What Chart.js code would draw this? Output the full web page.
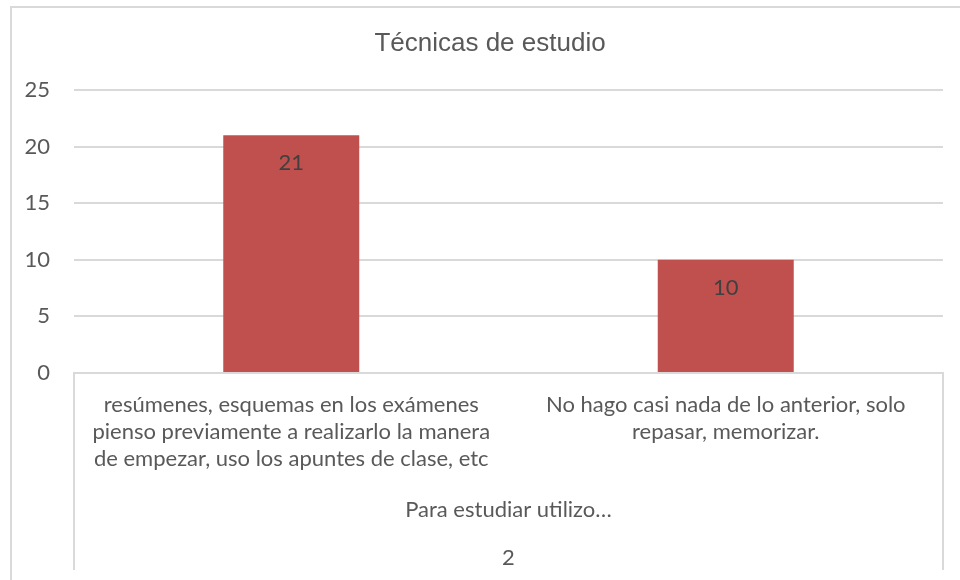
<!DOCTYPE html>
<html><head><meta charset="utf-8">
<script src="https://cdn.jsdelivr.net/npm/chart.js@4"></script>
<style>html,body{margin:0;padding:0;background:#fff}</style>
</head><body>
<canvas id="c" width="960" height="580"></canvas>
<script>
const chartTitle = 'Técnicas de estudio';
const categories = [
  ['resúmenes, esquemas en los exámenes', 'pienso previamente a realizarlo la manera', 'de empezar, uso los apuntes de clase, etc'],
  ['No hago casi nada de lo anterior, solo', 'repasar, memorizar.']
];
const groupLabels = ['Para estudiar utilizo…', '2'];
const values = [21, 10];
const yMin = 0, yMax = 25, yStep = 5;

const LABEL_FONT = 'Lato';
const GRID = '#D9D9D9';

const framePlugin = {
  id: 'frame',
  beforeDraw(chart) {
    const ctx = chart.ctx;
    ctx.save();
    ctx.fillStyle = '#fff';
    ctx.fillRect(0, 0, chart.width, chart.height);
    ctx.strokeStyle = GRID;
    ctx.lineWidth = 2;
    ctx.strokeRect(11, 7, 1000, 1000);
    ctx.restore();
  },
  afterDraw(chart) {
    const ctx = chart.ctx, a = chart.chartArea;
    ctx.save();
    ctx.strokeStyle = GRID;
    ctx.lineWidth = 2;
    ctx.beginPath();
    ctx.moveTo(a.left, a.bottom); ctx.lineTo(a.left, 570);
    ctx.moveTo(a.right, a.bottom); ctx.lineTo(a.right, 570);
    ctx.stroke();
    ctx.fillStyle = '#595959';
    ctx.font = '26px "Liberation Sans", Arial, sans-serif';
    ctx.textAlign = 'center';
    ctx.textBaseline = 'middle';
    ctx.fillText(chartTitle, 490, 44);
    ctx.fillStyle = '#404040';
    ctx.font = '22px ' + LABEL_FONT;
    const meta = chart.getDatasetMeta(0);
    meta.data.forEach((bar, i) => {
      ctx.fillText(String(values[i]), bar.x, bar.y + 28);
    });
    ctx.restore();
  }
};

new Chart(document.getElementById('c'), {
  type: 'bar',
  data: {
    labels: categories,
    datasets: [{
      data: values,
      backgroundColor: '#C0504D',
      borderWidth: 0,
      barPercentage: 0.313,
      categoryPercentage: 1
    }]
  },
  options: {
    responsive: false,
    animation: false,
    devicePixelRatio: 1,
    layout: { padding: { left: 0, right: 17, top: 90, bottom: 0 } },
    plugins: { legend: { display: false }, tooltip: { enabled: false }, title: { display: false } },
    scales: {
      x: {
        grid: { display: false, drawTicks: false },
        border: { display: true, color: GRID, width: 2 },
        ticks: {
          color: '#595959',
          font: { family: LABEL_FONT, size: 22, lineHeight: 1.23 },
          padding: 18,
          maxRotation: 0, minRotation: 0, autoSkip: false
        },
        title: {
          display: true,
          text: groupLabels,
          color: '#595959',
          font: { family: LABEL_FONT, size: 22, lineHeight: 2.18 },
          padding: { top: 0, bottom: -2 }
        },
        afterFit(scale) { scale.height = 207; }
      },
      y: {
        min: yMin, max: yMax,
        grid: { color: GRID, lineWidth: 2, drawTicks: false },
        border: { display: false },
        ticks: {
          stepSize: yStep,
          color: '#595959',
          font: { family: LABEL_FONT, size: 22 },
          padding: 24
        },
        afterFit(scale) { scale.width = 74; }
      }
    }
  },
  plugins: [framePlugin]
});
</script>
</body></html>
